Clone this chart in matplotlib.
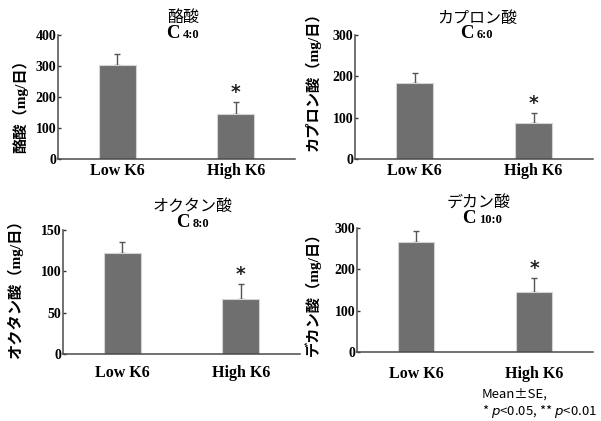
import matplotlib
matplotlib.use("Agg")
import matplotlib.pyplot as plt

SERIF = ["Liberation Serif", "Noto Sans CJK JP"]
CJK = ["Noto Sans CJK JP", "DejaVu Sans"]

groups = ["Low K6", "High K6"]

titles = ["酪酸", "カプロン酸", "オクタン酸", "デカン酸"]
carbons = ["4:0", "6:0", "8:0", "10:0"]
ylabels = ["酪酸（mg/日）", "カプロン酸（mg/日）", "オクタン酸（mg/日）", "デカン酸（mg/日）"]

means = [[303, 145], [185, 88], [122, 67], [266, 144]]
errors = [[35, 39], [23, 24], [13, 18], [26, 35]]
ymaxes = [400, 300, 150, 300]
yticks = [[0, 100, 200, 300, 400], [0, 100, 200, 300], [0, 50, 100, 150], [0, 100, 200, 300]]

W, H = 601, 421
# axes boxes in pixels: left, right, bottom(y of 0), top(y of max)
boxes = [(58, 295, 159, 35), (355, 593, 159, 35), (63, 300, 354, 230), (357, 593, 352, 228)]
title_pos = [(183, 17), (477, 18), (193, 206), (479, 203)]
sub_y = [33, 33, 222, 218]
ylabel_pos = [(20, 103), (313, 78), (15, 286), (313, 290)]
xpads = [3, 3, 8, 10]

fig = plt.figure(figsize=(W / 100, H / 100), dpi=100)

for i in range(4):
    l, r, b, t = boxes[i]
    ax = fig.add_axes([l / W, 1 - b / H, (r - l) / W, (b - t) / H])
    x = range(len(groups))
    ax.bar(x, means[i], width=0.31, color="#6f6f6f", edgecolor="#d4d4d4",
           linewidth=0.8, zorder=2)
    ax.errorbar(x, means[i], yerr=[[0, 0], errors[i]], fmt="none",
                ecolor="#555555", elinewidth=1, capsize=2.5, capthick=1, zorder=1)
    ax.annotate("*", (1, means[i][1] + errors[i][1]), xytext=(0, 0),
                textcoords="offset points", ha="center", va="bottom",
                fontsize=13.5, fontfamily="DejaVu Sans", fontweight="bold", color="#222222")
    ax.set_xlim(-0.5, 1.5)
    ax.set_ylim(0, ymaxes[i])
    ax.set_yticks(yticks[i])
    ax.set_xticks(list(x))
    ax.set_xticklabels(groups, fontfamily=SERIF, fontweight="bold", fontsize=11.5)
    for lab in ax.get_yticklabels():
        lab.set_fontfamily(SERIF)
        lab.set_fontweight("bold")
        lab.set_fontsize(10)
    ax.tick_params(axis="y", direction="in", length=2.5, width=1, pad=1, color="#333333")
    ax.tick_params(axis="x", length=0, pad=xpads[i])
    for s in ["top", "right"]:
        ax.spines[s].set_visible(False)
    for s in ["left", "bottom"]:
        ax.spines[s].set_color("#4a4a4a")
        ax.spines[s].set_linewidth(1.1)

    tx, ty = title_pos[i]
    fig.text(tx / W, 1 - ty / H, titles[i], ha="center", va="center",
             fontsize=11.5, fontfamily=CJK)
    fig.text((tx - 3) / W, 1 - (sub_y[i] + 5) / H, "C", ha="right", va="baseline",
             fontsize=13.5, fontfamily=SERIF, fontweight="bold")
    fig.text(tx / W, 1 - (sub_y[i] + 5) / H, carbons[i], ha="left", va="baseline",
             fontsize=9, fontfamily=SERIF, fontweight="bold")
    lx, ly = ylabel_pos[i]
    fig.text(lx / W, 1 - ly / H, ylabels[i], rotation=90, ha="center", va="center",
             fontsize=11, fontfamily=SERIF, fontweight="bold")

fig.text(482 / W, 1 - 394 / H, "Mean±SE,", ha="left", va="center",
         fontsize=9.5, fontfamily=CJK)
fig.text(482 / W, 1 - 412 / H, r"* $\it{p}$<0.05, ** $\it{p}$<0.01", ha="left", va="center",
         fontsize=9.5, fontfamily=CJK)

fig.savefig("out.png", dpi=100)
